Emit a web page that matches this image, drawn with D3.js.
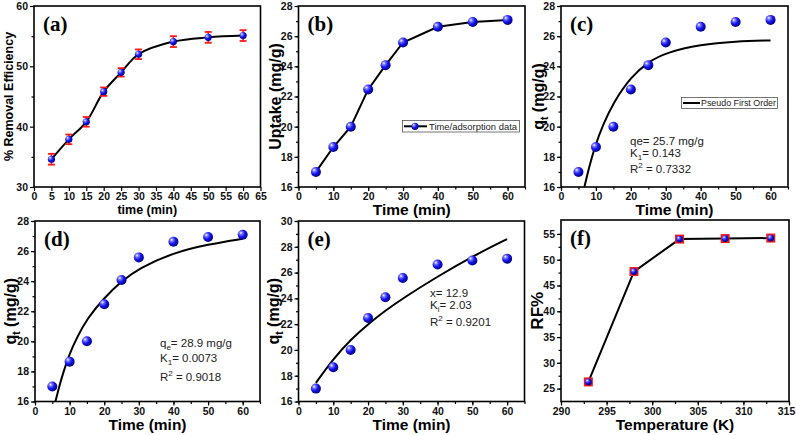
<!DOCTYPE html>
<html>
<head>
<meta charset="utf-8">
<script src="https://cdn.jsdelivr.net/npm/d3@7"></script>
<style>
  body { margin: 0; background: #fff; }
  svg { display: block; }
  text { font-family: Arial, "Liberation Sans", sans-serif; }
</style>
</head>
<body>
<div id="chart"></div>
<script>
// (a) removal efficiency vs time
const timeA = [5, 10, 15, 20, 25, 30, 40, 50, 60];
const removalA = [34.6, 37.9, 40.8, 45.8, 49.0, 52.0, 54.1, 54.8, 55.1];
const errA = [0.9, 0.8, 0.8, 0.7, 0.7, 0.8, 0.9, 0.9, 0.9];

// (b)-(e) uptake data
const timeQ = [5, 10, 15, 20, 25, 30, 40, 50, 60];
const uptake = [17.0, 18.65, 20.0, 22.47, 24.08, 25.58, 26.62, 26.94, 27.08];

// fitted curves
const pfoT = [6.7, 8, 10, 12, 15, 20, 25, 30, 40, 50, 60];
const pfoQ = [16.0, 17.3, 18.9, 20.1, 21.6, 23.3, 24.3, 24.9, 25.45, 25.65, 25.72];
const psoT = [5.9, 7, 8, 10, 12, 15, 20, 25, 30, 40, 50, 60];
const psoQ = [16.0, 17.0, 17.8, 19.2, 20.2, 21.5, 22.9, 24.0, 24.85, 25.9, 26.45, 26.82];
const ipdT = [5, 10, 15, 20, 25, 30, 40, 50, 60];
const ipdQ = [17.44, 19.3, 20.8, 22.0, 23.05, 24.0, 25.7, 27.25, 28.6];

// (f) RF% vs temperature
const tempK = [293, 298, 303, 308, 313];
const rf = [26.3, 47.7, 54.0, 54.1, 54.2];

const svg = d3.select("#chart").append("svg")
    .attr("width", 796)
    .attr("height", 435);

const defs = svg.append("defs");
const grad = defs.append("radialGradient")
    .attr("id", "ball")
    .attr("cx", "35%").attr("cy", "35%").attr("r", "70%")
    .attr("fx", "32%").attr("fy", "30%");
grad.append("stop").attr("offset", "0%").attr("stop-color", "#ffffff");
grad.append("stop").attr("offset", "22%").attr("stop-color", "#7a7aff");
grad.append("stop").attr("offset", "55%").attr("stop-color", "#1414f0");
grad.append("stop").attr("offset", "100%").attr("stop-color", "#00007a");

function panel(o) {
    const x = d3.scaleLinear().domain(o.xd).range([o.x0, o.x1]);
    const y = d3.scaleLinear().domain(o.yd).range([o.y1, o.y0]);
    const g = svg.append("g");

    // minor ticks
    g.append("g")
        .attr("transform", `translate(0,${o.y1})`)
        .call(d3.axisBottom(x).tickValues(o.xminor).tickSize(2.5).tickFormat(""))
        .call(a => a.select(".domain").remove());
    g.append("g")
        .attr("transform", `translate(${o.x0},0)`)
        .call(d3.axisLeft(y).tickValues(o.yminor).tickSize(2.5).tickFormat(""))
        .call(a => a.select(".domain").remove());

    const xa = g.append("g")
        .attr("transform", `translate(0,${o.y1})`)
        .call(d3.axisBottom(x).tickValues(o.xticks).tickSize(4).tickPadding(2));
    const ya = g.append("g")
        .attr("transform", `translate(${o.x0},0)`)
        .call(d3.axisLeft(y).tickValues(o.yticks).tickSize(4).tickPadding(2));
    [xa, ya].forEach(a => {
        a.select(".domain").remove();
        a.selectAll("text")
            .attr("fill", "#111")
            .style("font-size", "10.5px")
            .style("font-weight", "bold")
            .style("font-family", "Arial, 'Liberation Sans', sans-serif");
    });
    g.selectAll("line").attr("stroke", "#000").attr("stroke-width", 1.2);

    g.append("rect")
        .attr("x", o.x0).attr("y", o.y0)
        .attr("width", o.x1 - o.x0).attr("height", o.y1 - o.y0)
        .attr("fill", "none").attr("stroke", "#000").attr("stroke-width", 1.6);

    // panel letter
    g.append("text")
        .attr("x", o.x0 + 9).attr("y", o.y0 + 25)
        .style("font-family", "'Times New Roman', 'Liberation Serif', serif")
        .style("font-weight", "bold")
        .style("font-size", "21px")
        .text(o.letter);

    // x title
    g.append("text")
        .attr("x", (o.x0 + o.x1) / 2).attr("y", o.xtY)
        .attr("text-anchor", "middle")
        .style("font-weight", "bold")
        .style("font-size", o.xtSize)
        .text(o.xtitle);

    // y title
    const yt = g.append("text")
        .attr("transform", `translate(${o.ytX},${(o.y0 + o.y1) / 2}) rotate(-90)`)
        .attr("text-anchor", "middle")
        .style("font-weight", "bold")
        .style("font-size", o.ytSize);
    if (o.ysub) {
        yt.append("tspan").text("q");
        yt.append("tspan").attr("dy", 4).style("font-size", "10px").text("t");
        yt.append("tspan").attr("dy", -4).text(" (mg/g)");
    } else {
        yt.text(o.ytitle);
    }
    return { x, y, g, xa };
}

function balls(p, xs, ys, r) {
    p.g.selectAll(null)
        .data(xs.map((d, i) => [d, ys[i]]))
        .enter().append("circle")
        .attr("cx", d => p.x(d[0]))
        .attr("cy", d => p.y(d[1]))
        .attr("r", r)
        .attr("fill", "url(#ball)");
}

function curve(p, xs, ys, kind) {
    const line = d3.line()
        .x(d => p.x(d[0]))
        .y(d => p.y(d[1]))
        .curve(kind || d3.curveMonotoneX);
    p.g.append("path")
        .datum(xs.map((d, i) => [d, ys[i]]))
        .attr("d", line)
        .attr("fill", "none")
        .attr("stroke", "#000")
        .attr("stroke-width", 2);
}

function note(p, x, y, parts) {
    const t = p.g.append("text")
        .attr("x", x).attr("y", y)
        .attr("fill", "#222")
        .style("font-size", "11.5px");
    parts.forEach(pt => {
        const s = t.append("tspan").text(pt.t);
        if (pt.sub) s.attr("dy", 3).style("font-size", "8px");
        if (pt.sup) s.attr("dy", -5).style("font-size", "8px");
        if (pt.back) s.attr("dy", pt.back);
    });
}

const tick5 = d3.range(0, 66, 5);
const tick10 = d3.range(0, 61, 10);
const q2 = d3.range(16, 29, 2);
const q1 = d3.range(16, 29, 1);

// (a)
const pa = panel({
    x0: 34, x1: 260.5, y0: 6, y1: 187, xd: [0, 65], yd: [30, 60],
    xticks: tick5, xminor: [], yticks: [30, 40, 50, 60], yminor: [35, 45, 55],
    letter: "(a)", xtitle: "time (min)", xtY: 214, xtSize: "12.5px",
    ytitle: "% Removal Efficiency", ytX: 13, ytSize: "12.5px"
});
curve(pa, timeA, removalA, d3.curveCatmullRom);
timeA.forEach((t, i) => {
    const cx = pa.x(t);
    const top = pa.y(removalA[i] + errA[i]);
    const bot = pa.y(removalA[i] - errA[i]);
    pa.g.append("line").attr("x1", cx).attr("x2", cx).attr("y1", top).attr("y2", bot)
        .attr("stroke", "#ff1a1a").attr("stroke-width", 1.6);
    [top, bot].forEach(yy => pa.g.append("line")
        .attr("x1", cx - 3.5).attr("x2", cx + 3.5).attr("y1", yy).attr("y2", yy)
        .attr("stroke", "#ff1a1a").attr("stroke-width", 1.8));
});
balls(pa, timeA, removalA, 3.6);

// (b)
const pb = panel({
    x0: 298.5, x1: 525, y0: 6, y1: 187, xd: [0, 65], yd: [16, 28],
    xticks: tick10, xminor: tick5, yticks: q2, yminor: q1,
    letter: "(b)", xtitle: "Time (min)", xtY: 215, xtSize: "15.5px",
    ytitle: "Uptake (mg/g)", ytX: 281, ytSize: "16px"
});
curve(pb, timeQ, uptake, d3.curveLinear);
balls(pb, timeQ, uptake, 5);
pb.g.append("rect").attr("x", 402.5).attr("y", 120.5).attr("width", 117).attr("height", 11.5)
    .attr("fill", "#fff").attr("stroke", "#555").attr("stroke-width", 0.8);
pb.g.append("line").attr("x1", 404).attr("x2", 427).attr("y1", 126.3).attr("y2", 126.3)
    .attr("stroke", "#000").attr("stroke-width", 2);
pb.g.append("circle").attr("cx", 415).attr("cy", 126.3).attr("r", 3.6).attr("fill", "url(#ball)");
pb.g.append("text").attr("x", 429).attr("y", 129.6).style("font-size", "9.5px").attr("fill", "#222")
    .attr("textLength", 88).attr("lengthAdjust", "spacingAndGlyphs")
    .text("Time/adsorption data");

// (c)
const pc = panel({
    x0: 561, x1: 788, y0: 6, y1: 187, xd: [0, 65], yd: [16, 28],
    xticks: tick10, xminor: tick5, yticks: q2, yminor: q1,
    letter: "(c)", xtitle: "Time (min)", xtY: 215, xtSize: "15.5px",
    ysub: true, ytX: 544, ytSize: "16px"
});
curve(pc, pfoT, pfoQ, d3.curveBasis);
balls(pc, timeQ, uptake, 5);
pc.g.append("rect").attr("x", 681.5).attr("y", 97.5).attr("width", 96).attr("height", 11)
    .attr("fill", "#fff").attr("stroke", "#555").attr("stroke-width", 0.8);
pc.g.append("line").attr("x1", 683).attr("x2", 700).attr("y1", 103).attr("y2", 103)
    .attr("stroke", "#000").attr("stroke-width", 2);
pc.g.append("text").attr("x", 701).attr("y", 106.4).style("font-size", "9.5px").attr("fill", "#222")
    .attr("textLength", 75).attr("lengthAdjust", "spacingAndGlyphs")
    .text("Pseudo First Order");
note(pc, 630, 145, [{ t: "qe= 25.7 mg/g" }]);
note(pc, 630, 157, [{ t: "K" }, { t: "1", sub: true }, { t: "= 0.143", back: -3 }]);
note(pc, 630, 172.5, [{ t: "R" }, { t: "2", sup: true }, { t: " = 0.7332", back: 5 }]);

// (d)
const pd = panel({
    x0: 35, x1: 260, y0: 221, y1: 401.5, xd: [0, 65], yd: [16, 28],
    xticks: tick10, xminor: tick5, yticks: q2, yminor: q1,
    letter: "(d)", xtitle: "Time (min)", xtY: 430, xtSize: "15.5px",
    ysub: true, ytX: 16, ytSize: "16px"
});
curve(pd, psoT, psoQ, d3.curveBasis);
balls(pd, timeQ, uptake, 5);
note(pd, 160, 347, [{ t: "q" }, { t: "e", sub: true }, { t: "= 28.9 mg/g", back: -3 }]);
note(pd, 160, 362, [{ t: "K" }, { t: "1", sub: true }, { t: "= 0.0073", back: -3 }]);
note(pd, 160, 381, [{ t: "R" }, { t: "2", sup: true }, { t: " = 0.9018", back: 5 }]);

// (e)
const pe = panel({
    x0: 298.5, x1: 524.5, y0: 221, y1: 401.5, xd: [0, 65], yd: [16, 30],
    xticks: tick10, xminor: tick5, yticks: d3.range(16, 31, 2), yminor: d3.range(16, 31, 1),
    letter: "(e)", xtitle: "Time (min)", xtY: 430, xtSize: "15.5px",
    ysub: true, ytX: 279, ytSize: "16px"
});
curve(pe, ipdT, ipdQ, d3.curveBasis);
balls(pe, timeQ, uptake, 5);
note(pe, 430, 297, [{ t: "x= 12.9" }]);
note(pe, 430, 309, [{ t: "K" }, { t: "i", sub: true }, { t: "= 2.03", back: -3 }]);
note(pe, 430, 326, [{ t: "R" }, { t: "2", sup: true }, { t: " = 0.9201", back: 5 }]);

// (f)
const pf = panel({
    x0: 561, x1: 789, y0: 220, y1: 401.5, xd: [290, 315], yd: [22.5, 57.7],
    xticks: d3.range(290, 316, 5), xminor: d3.range(290, 316, 2.5),
    yticks: d3.range(25, 56, 5), yminor: d3.range(25, 56, 2.5),
    letter: "(f)", xtitle: "Temperature (K)", xtY: 430, xtSize: "15.5px",
    ytitle: "RF%", ytX: 543, ytSize: "17px"
});
// keep the last tick label inside the window
pf.xa.selectAll(".tick text").filter(d => d === 315).attr("dx", -3);
curve(pf, tempK, rf, d3.curveLinear);
pf.g.selectAll(null).data(tempK.map((d, i) => [d, rf[i]])).enter().append("rect")
    .attr("x", d => pf.x(d[0]) - 4.5).attr("y", d => pf.y(d[1]) - 4.5)
    .attr("width", 9).attr("height", 9)
    .attr("fill", "#f01818");
balls(pf, tempK, rf, 3.4);
</script>
</body>
</html>
